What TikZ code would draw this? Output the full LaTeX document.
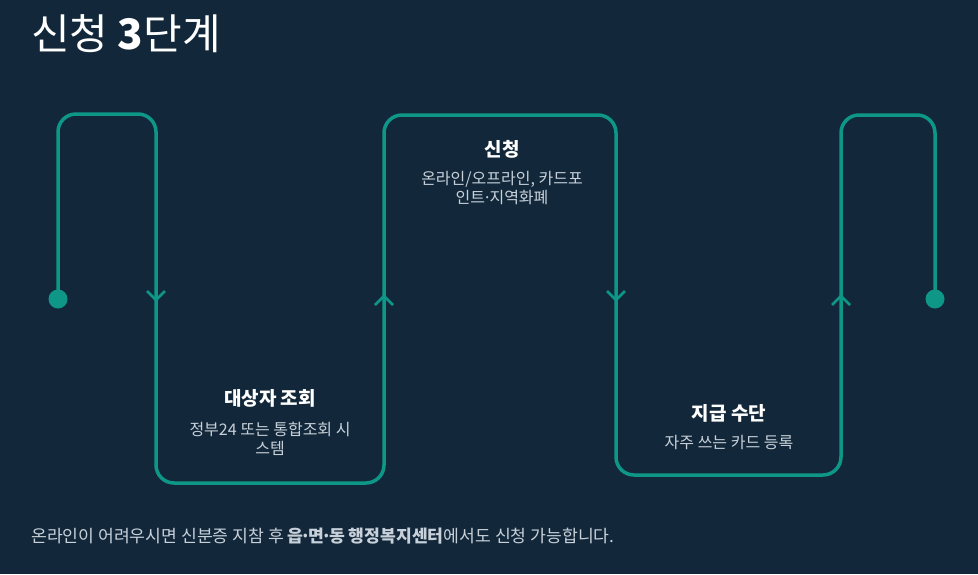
\documentclass[tikz,border=0pt]{standalone}
\usepackage{fontspec}
\usetikzlibrary{calc}
\setmainfont{Noto Sans CJK KR}
\definecolor{bgc}{HTML}{12283A}
\definecolor{teal}{HTML}{0E9686}
\definecolor{subc}{HTML}{C8D1DA}
\newcommand{\mdt}{\makebox[0.28em]{·}}
\begin{document}
\begin{tikzpicture}[x=1pt,y=-1pt,
  flow/.style={draw=teal,line width=3.5pt,rounded corners=18pt},
  chev/.style={draw=teal,line width=2.6pt},
  dotn/.style={circle,fill=teal,inner sep=0pt,minimum size=19pt},
  steptitle/.style={text=white,font=\fontsize{19}{22}\selectfont\bfseries,anchor=base,inner sep=0pt},
  stepsub/.style={text=subc,font=\fontsize{16}{19.5}\selectfont,anchor=base,inner sep=0pt},
]
\fill[bgc] (0,0) rectangle (978,574);
\useasboundingbox (0,0) rectangle (978,574);
% title
\node[text=white,font=\fontsize{42}{46}\selectfont,anchor=base west,inner sep=0pt] (title) at (31,49) {신청 \textbf{3}단계};
% dots
\node[dotn] (start) at (58,299) {};
\node[dotn] (end) at (935,299) {};
% flow line
\draw[flow] (start.center) -- (58,114) -- (156,114) -- (156,483) -- (384,483) -- (384,115)
  -- (616,115) -- (616,475) -- (841,475) -- (841,115) -- (935,115) -- (end.center);
% chevrons
\coordinate (c1) at (156,300);
\coordinate (c2) at (384,296);
\coordinate (c3) at (616,300);
\coordinate (c4) at (841,296);
\draw[chev] ($(c1)+(-9,-9)$) -- (c1) -- ($(c1)+(9,-9)$);
\draw[chev] ($(c2)+(-9,9)$) -- (c2) -- ($(c2)+(9,9)$);
\draw[chev] ($(c3)+(-9,-9)$) -- (c3) -- ($(c3)+(9,-9)$);
\draw[chev] ($(c4)+(-9,9)$) -- (c4) -- ($(c4)+(9,9)$);
% step texts
\node[steptitle] (t1) at (270,405) {대상자 조회};
\node[stepsub] (s1a) at (270,435) {정부24 또는 통합조회 시};
\node[stepsub] (s1b) at (270,454) {스템};
\node[steptitle] (t2) at (502,156) {신청};
\node[stepsub] (s2a) at (502,184) {온라인/오프라인, 카드포};
\node[stepsub] (s2b) at (502,203) {인트\mdt 지역화폐};
\node[steptitle] (t3) at (729,420) {지급 수단};
\node[stepsub] (s3) at (729,448) {자주 쓰는 카드 등록};
% footer
\node[text=subc,font=\fontsize{17.2}{19}\selectfont,anchor=base west,inner sep=0pt] (foot) at (31,542)
  {온라인이 어려우시면 신분증 지참 후 \textbf{읍\mdt 면\mdt 동 행정복지센터}에서도 신청 가능합니다.};
\end{tikzpicture}
\end{document}
